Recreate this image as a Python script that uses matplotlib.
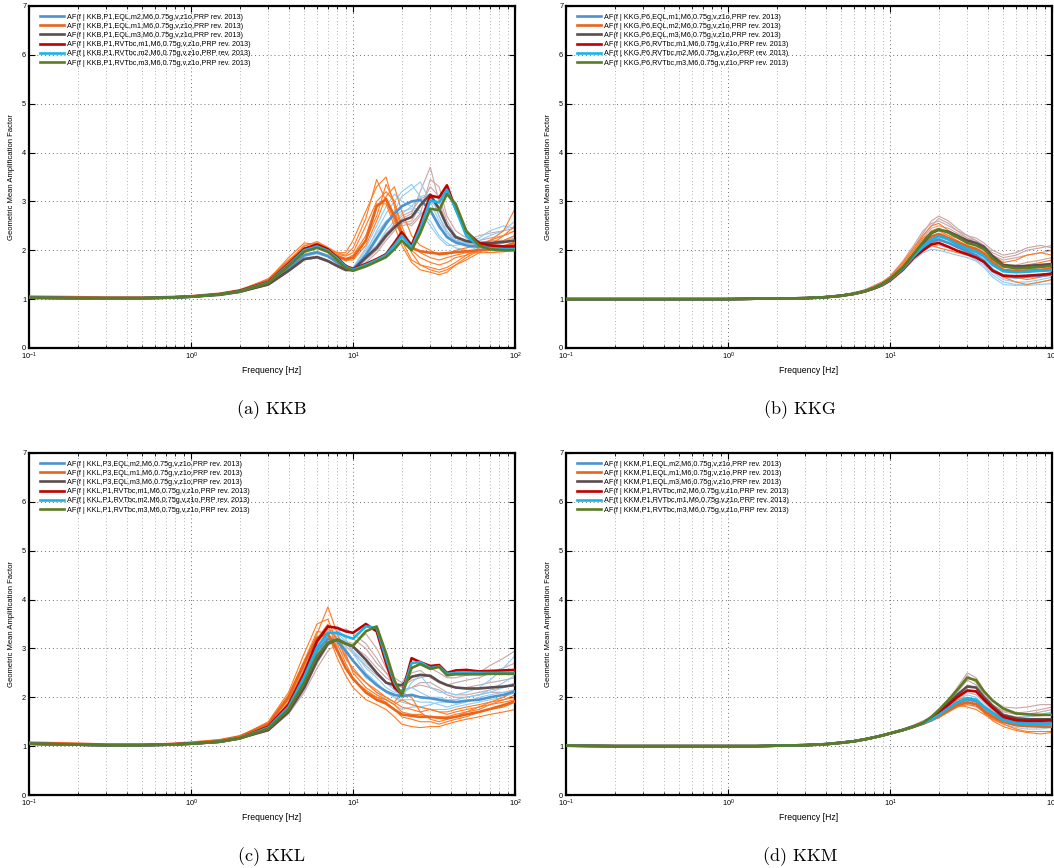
import numpy as np
import matplotlib
matplotlib.use("Agg")
import matplotlib.pyplot as plt
from matplotlib.ticker import LogLocator, NullFormatter, FixedLocator

plt.rcParams['font.family'] = ['Liberation Sans', 'DejaVu Sans']
plt.rcParams['mathtext.fontset'] = 'custom'
plt.rcParams['mathtext.rm'] = 'Liberation Sans'
plt.rcParams['mathtext.it'] = 'Liberation Sans'
plt.rcParams['mathtext.default'] = 'regular'

# ---------------------------------------------------------------- frequency grid
freq = [0.1, 0.2, 0.3, 0.5, 0.7, 1.0, 1.5, 2.0, 3, 4, 5, 6, 7, 8, 9, 10, 12, 14,
        16, 18, 20, 23, 26, 30, 34, 38, 43, 50, 60, 70, 85, 100]
N_LOW = 8  # realisations share the group mean below 3 Hz

# ---------------------------------------------------------------- KKB
kkb_low = [1.03, 1.02, 1.02, 1.02, 1.03, 1.05, 1.09, 1.15]
kkb_eql_a = kkb_low + [1.32, 1.62, 1.9, 1.96, 1.88, 1.75, 1.63, 1.6, 1.9, 2.25, 2.55, 2.75, 2.9, 3.0, 3.03, 2.82, 2.5, 2.27, 2.16, 2.1, 2.07, 2.06, 2.05, 2.05]
kkb_eql_b = [1.05, 1.04, 1.03, 1.03, 1.04, 1.06, 1.11, 1.18] + [1.38, 1.75, 2.02, 2.08, 1.98, 1.88, 1.82, 1.85, 2.2, 2.9, 3.05, 2.7, 2.35, 2.05, 1.98, 1.95, 1.93, 1.94, 1.96, 1.98, 2.0, 2.03, 2.08, 2.15]
kkb_eql_c = kkb_low + [1.3, 1.58, 1.82, 1.86, 1.78, 1.68, 1.6, 1.6, 1.85, 2.05, 2.3, 2.47, 2.6, 2.68, 2.92, 3.14, 2.85, 2.5, 2.27, 2.19, 2.15, 2.15, 2.17, 2.2]
kkb_rvt_a = [1.03, 1.02, 1.02, 1.02, 1.03, 1.05, 1.10, 1.17] + [1.35, 1.72, 2.03, 2.12, 2.02, 1.85, 1.68, 1.62, 1.72, 1.82, 1.92, 2.15, 2.37, 2.1, 2.55, 3.12, 3.08, 3.33, 2.85, 2.38, 2.15, 2.1, 2.08, 2.08]
kkb_rvt_b = [1.03, 1.02, 1.02, 1.02, 1.03, 1.05, 1.10, 1.16] + [1.34, 1.7, 2.0, 2.08, 1.99, 1.83, 1.66, 1.6, 1.7, 1.8, 1.9, 2.1, 2.3, 2.05, 2.45, 3.02, 2.98, 3.24, 2.85, 2.3, 2.08, 2.03, 2.02, 2.02]
kkb_rvt_c = [1.03, 1.02, 1.02, 1.02, 1.03, 1.05, 1.10, 1.16] + [1.33, 1.68, 1.97, 2.05, 1.97, 1.8, 1.64, 1.58, 1.67, 1.77, 1.86, 2.02, 2.2, 2.0, 2.35, 2.85, 2.82, 3.15, 2.95, 2.4, 2.1, 2.02, 2.0, 2.0]

kkb_runs_a = [
    [1.33, 1.62, 1.92, 1.98, 1.9, 1.77, 1.64, 1.62, 1.95, 2.4, 2.75, 3.0, 3.2, 3.35, 3.1, 2.8, 2.45, 2.3, 2.2, 2.15, 2.2, 2.3, 2.4, 2.6],
    [1.31, 1.6, 1.88, 1.95, 1.87, 1.74, 1.62, 1.6, 1.85, 2.2, 2.5, 2.8, 3.1, 3.25, 3.4, 3.0, 2.6, 2.35, 2.25, 2.1, 2.05, 2.1, 2.2, 2.3],
    [1.32, 1.63, 1.9, 1.96, 1.88, 1.75, 1.65, 1.65, 2.0, 2.35, 2.6, 2.7, 2.8, 2.85, 2.75, 2.6, 2.3, 2.15, 2.05, 2.0, 1.95, 2.0, 2.05, 2.05],
    [1.3, 1.6, 1.87, 1.93, 1.86, 1.73, 1.6, 1.58, 1.8, 2.1, 2.4, 2.6, 2.75, 2.9, 3.1, 3.15, 2.7, 2.4, 2.2, 2.1, 2.0, 1.95, 2.0, 2.1],
    [1.32, 1.61, 1.9, 1.97, 1.89, 1.76, 1.64, 1.64, 2.05, 2.5, 2.9, 3.15, 3.0, 2.9, 2.8, 2.5, 2.25, 2.1, 2.1, 2.15, 2.25, 2.4, 2.5, 2.45],
]
kkb_runs_b = [
    [1.40, 1.85, 2.15, 2.12, 2.0, 1.95, 1.95, 2.2, 2.8, 3.3, 3.5, 2.9, 2.2, 1.8, 1.7, 1.6, 1.55, 1.6, 1.7, 1.8, 1.95, 2.1, 2.3, 2.5],
    [1.38, 1.78, 2.1, 2.15, 2.05, 1.92, 1.88, 1.95, 2.5, 3.0, 3.2, 3.0, 2.5, 2.0, 1.85, 1.75, 1.7, 1.75, 1.85, 1.9, 2.0, 2.1, 2.2, 2.3],
    [1.36, 1.72, 2.0, 2.05, 1.95, 1.85, 1.8, 1.8, 2.1, 2.6, 3.1, 3.3, 2.8, 2.3, 2.1, 2.0, 1.9, 1.92, 2.0, 2.05, 2.1, 2.2, 2.4, 2.85],
    [1.42, 1.8, 2.05, 2.1, 1.98, 1.88, 1.82, 1.9, 2.3, 2.95, 2.95, 2.5, 2.1, 1.75, 1.6, 1.55, 1.5, 1.55, 1.7, 1.85, 2.0, 2.0, 2.05, 2.1],
    [1.37, 1.75, 2.08, 2.18, 2.06, 1.95, 1.9, 2.05, 2.65, 3.45, 3.0, 2.6, 2.3, 2.1, 1.95, 1.85, 1.8, 1.85, 1.9, 1.95, 1.95, 1.95, 1.97, 2.0],
    [1.39, 1.76, 2.02, 2.08, 1.97, 1.86, 1.78, 1.85, 2.2, 2.7, 3.35, 3.0, 2.4, 1.95, 1.7, 1.65, 1.6, 1.65, 1.75, 1.9, 2.05, 2.2, 2.3, 2.4],
]
kkb_runs_c = [
    [1.3, 1.58, 1.83, 1.87, 1.79, 1.69, 1.61, 1.62, 1.9, 2.1, 2.35, 2.5, 2.65, 2.75, 3.2, 3.7, 3.0, 2.5, 2.3, 2.2, 2.2, 2.25, 2.3, 2.4],
    [1.29, 1.56, 1.8, 1.85, 1.77, 1.67, 1.59, 1.58, 1.75, 1.95, 2.2, 2.4, 2.55, 2.6, 2.9, 3.3, 3.1, 2.6, 2.3, 2.15, 2.1, 2.1, 2.15, 2.2],
    [1.31, 1.6, 1.84, 1.88, 1.8, 1.7, 1.62, 1.63, 1.85, 2.05, 2.3, 2.55, 2.7, 2.8, 3.05, 3.15, 2.7, 2.35, 2.2, 2.15, 2.15, 2.2, 2.2, 2.25],
    [1.29, 1.57, 1.81, 1.84, 1.76, 1.66, 1.58, 1.57, 1.8, 2.0, 2.25, 2.45, 2.5, 2.55, 2.75, 3.45, 3.3, 2.7, 2.4, 2.25, 2.15, 2.1, 2.05, 2.05],
    [1.3, 1.58, 1.82, 1.86, 1.78, 1.68, 1.6, 1.6, 1.82, 2.02, 2.3, 2.5, 2.6, 2.5, 2.7, 3.0, 2.85, 2.5, 2.25, 2.2, 2.3, 2.35, 2.4, 2.45],
]

# ---------------------------------------------------------------- KKG
kkg_low = [1.0, 1.0, 1.0, 1.0, 1.0, 1.0, 1.01, 1.01]
kkg_eql_a = kkg_low + [1.02, 1.04, 1.07, 1.11, 1.16, 1.22, 1.29, 1.39, 1.61, 1.86, 2.05, 2.18, 2.22, 2.15, 2.07, 1.98, 1.9, 1.78, 1.6, 1.48, 1.45, 1.46, 1.48, 1.5]
kkg_eql_b = kkg_low + [1.02, 1.04, 1.07, 1.11, 1.16, 1.23, 1.3, 1.4, 1.63, 1.9, 2.12, 2.28, 2.33, 2.25, 2.17, 2.08, 2.02, 1.93, 1.75, 1.6, 1.57, 1.58, 1.6, 1.62]
kkg_eql_c = kkg_low + [1.02, 1.04, 1.07, 1.11, 1.16, 1.23, 1.31, 1.41, 1.64, 1.91, 2.15, 2.35, 2.42, 2.38, 2.3, 2.2, 2.15, 2.07, 1.88, 1.7, 1.67, 1.68, 1.7, 1.72]
kkg_rvt_a = kkg_low + [1.02, 1.04, 1.07, 1.11, 1.16, 1.22, 1.29, 1.38, 1.6, 1.85, 2.0, 2.12, 2.15, 2.07, 1.99, 1.92, 1.85, 1.76, 1.58, 1.48, 1.47, 1.48, 1.5, 1.52]
kkg_rvt_b = kkg_low + [1.02, 1.04, 1.07, 1.11, 1.16, 1.23, 1.3, 1.4, 1.62, 1.88, 2.08, 2.22, 2.29, 2.22, 2.12, 2.03, 1.97, 1.88, 1.7, 1.57, 1.55, 1.56, 1.58, 1.59]
kkg_rvt_c = kkg_low + [1.02, 1.04, 1.07, 1.11, 1.16, 1.23, 1.31, 1.41, 1.64, 1.92, 2.17, 2.36, 2.43, 2.36, 2.27, 2.15, 2.1, 2.03, 1.83, 1.67, 1.63, 1.64, 1.66, 1.68]

kkg_runs_a = [
    [1.03, 1.05, 1.08, 1.12, 1.17, 1.24, 1.31, 1.41, 1.62, 1.85, 2.05, 2.2, 2.25, 2.15, 2.05, 1.95, 1.9, 1.75, 1.55, 1.4, 1.35, 1.35, 1.4, 1.45],
    [1.03, 1.05, 1.08, 1.12, 1.17, 1.24, 1.31, 1.4, 1.6, 1.82, 1.98, 2.08, 2.1, 2.05, 2.0, 1.9, 1.8, 1.7, 1.5, 1.35, 1.3, 1.28, 1.3, 1.32],
    [1.03, 1.05, 1.08, 1.12, 1.18, 1.25, 1.32, 1.42, 1.66, 1.92, 2.15, 2.3, 2.35, 2.25, 2.15, 2.05, 1.98, 1.85, 1.7, 1.6, 1.6, 1.62, 1.65, 1.7],
    [1.03, 1.05, 1.08, 1.12, 1.17, 1.24, 1.31, 1.4, 1.63, 1.9, 2.1, 2.25, 2.3, 2.2, 2.1, 2.0, 1.95, 1.82, 1.62, 1.45, 1.42, 1.45, 1.5, 1.55],
    [1.03, 1.05, 1.08, 1.12, 1.17, 1.23, 1.3, 1.39, 1.58, 1.8, 1.95, 2.02, 2.0, 1.95, 1.9, 1.85, 1.78, 1.65, 1.45, 1.3, 1.28, 1.3, 1.35, 1.4],
]
kkg_runs_b = [
    [1.03, 1.05, 1.08, 1.12, 1.18, 1.25, 1.33, 1.43, 1.7, 1.95, 2.2, 2.4, 2.45, 2.35, 2.25, 2.15, 2.1, 2.0, 1.85, 1.7, 1.65, 1.7, 1.75, 1.8],
    [1.03, 1.05, 1.08, 1.12, 1.17, 1.24, 1.31, 1.4, 1.6, 1.85, 2.05, 2.15, 2.2, 2.15, 2.05, 2.0, 1.9, 1.8, 1.6, 1.5, 1.45, 1.4, 1.45, 1.5],
    [1.03, 1.05, 1.08, 1.13, 1.19, 1.27, 1.35, 1.46, 1.75, 2.05, 2.3, 2.5, 2.55, 2.4, 2.3, 2.2, 2.15, 2.05, 1.9, 1.75, 1.8, 1.9, 1.95, 1.9],
    [1.03, 1.05, 1.08, 1.12, 1.18, 1.25, 1.32, 1.42, 1.65, 1.85, 2.0, 2.1, 2.05, 2.0, 1.95, 1.9, 1.85, 1.75, 1.6, 1.45, 1.35, 1.3, 1.35, 1.4],
    [1.03, 1.05, 1.08, 1.12, 1.18, 1.26, 1.34, 1.44, 1.7, 2.0, 2.25, 2.35, 2.4, 2.3, 2.2, 2.1, 2.05, 1.95, 1.8, 1.6, 1.55, 1.6, 1.6, 1.65],
]
kkg_runs_c = [
    [1.03, 1.05, 1.08, 1.13, 1.19, 1.27, 1.35, 1.46, 1.75, 2.05, 2.35, 2.6, 2.7, 2.6, 2.45, 2.3, 2.2, 2.1, 1.95, 1.85, 1.9, 2.0, 2.05, 2.1],
    [1.03, 1.05, 1.08, 1.12, 1.18, 1.26, 1.34, 1.44, 1.7, 1.98, 2.25, 2.45, 2.5, 2.45, 2.35, 2.25, 2.15, 2.05, 1.85, 1.7, 1.7, 1.75, 1.8, 1.85],
    [1.03, 1.05, 1.08, 1.13, 1.19, 1.28, 1.36, 1.47, 1.78, 2.1, 2.4, 2.55, 2.6, 2.5, 2.4, 2.3, 2.25, 2.15, 2.0, 1.9, 1.95, 2.05, 2.1, 2.05],
    [1.03, 1.05, 1.08, 1.12, 1.18, 1.25, 1.33, 1.43, 1.65, 1.9, 2.15, 2.3, 2.35, 2.3, 2.25, 2.2, 2.1, 1.95, 1.75, 1.6, 1.55, 1.6, 1.65, 1.7],
    [1.03, 1.05, 1.08, 1.12, 1.18, 1.26, 1.34, 1.45, 1.72, 2.0, 2.3, 2.5, 2.65, 2.55, 2.4, 2.25, 2.2, 2.1, 1.9, 1.8, 1.85, 1.9, 1.95, 2.0],
]

# ---------------------------------------------------------------- KKL
kkl_low = [1.05, 1.03, 1.02, 1.02, 1.03, 1.05, 1.09, 1.16]
kkl_eql_a = kkl_low + [1.36, 1.8, 2.4, 2.95, 3.2, 3.15, 2.95, 2.75, 2.45, 2.25, 2.12, 2.05, 2.02, 2.05, 2.0, 1.98, 1.95, 1.92, 1.9, 1.93, 1.95, 2.0, 2.05, 2.12]
kkl_eql_b = [1.07, 1.05, 1.03, 1.03, 1.04, 1.07, 1.12, 1.2] + [1.45, 2.0, 2.7, 3.22, 3.3, 2.95, 2.6, 2.38, 2.1, 1.95, 1.87, 1.75, 1.65, 1.62, 1.6, 1.6, 1.58, 1.57, 1.6, 1.65, 1.7, 1.76, 1.84, 1.92]
kkl_eql_c = kkl_low + [1.33, 1.7, 2.2, 2.75, 3.1, 3.18, 3.1, 3.04, 2.77, 2.5, 2.3, 2.25, 2.25, 2.42, 2.46, 2.44, 2.32, 2.25, 2.2, 2.18, 2.18, 2.2, 2.22, 2.25]
kkl_rvt_a = kkl_low + [1.4, 1.85, 2.5, 3.15, 3.45, 3.42, 3.35, 3.32, 3.5, 3.35, 2.7, 2.2, 2.06, 2.8, 2.72, 2.64, 2.66, 2.5, 2.55, 2.56, 2.53, 2.54, 2.55, 2.56]
kkl_rvt_b = kkl_low + [1.38, 1.8, 2.42, 3.02, 3.32, 3.32, 3.25, 3.2, 3.45, 3.42, 2.8, 2.3, 2.05, 2.7, 2.72, 2.6, 2.63, 2.48, 2.5, 2.51, 2.5, 2.5, 2.5, 2.5]
kkl_rvt_c = kkl_low + [1.36, 1.75, 2.3, 2.85, 3.12, 3.18, 3.1, 3.05, 3.35, 3.45, 2.9, 2.35, 2.04, 2.6, 2.68, 2.58, 2.62, 2.45, 2.47, 2.47, 2.47, 2.48, 2.48, 2.48]

kkl_runs_a = [
    [1.38, 1.85, 2.45, 3.0, 3.35, 3.4, 3.2, 2.9, 2.5, 2.3, 2.1, 2.0, 1.9, 1.85, 1.8, 1.85, 1.9, 1.9, 1.95, 2.0, 2.05, 2.1, 2.2, 2.3],
    [1.35, 1.75, 2.3, 2.85, 3.15, 3.25, 3.1, 2.95, 2.6, 2.4, 2.2, 2.1, 2.15, 2.2, 2.1, 2.0, 2.0, 1.95, 1.95, 2.0, 2.05, 2.15, 2.3, 2.45],
    [1.37, 1.8, 2.4, 2.95, 3.25, 3.05, 2.8, 2.55, 2.3, 2.1, 1.95, 1.85, 1.75, 1.8, 1.8, 1.75, 1.75, 1.75, 1.8, 1.85, 1.9, 1.95, 2.0, 2.1],
    [1.36, 1.78, 2.35, 2.9, 3.2, 3.3, 3.15, 2.95, 2.7, 2.5, 2.3, 2.15, 2.0, 2.3, 2.45, 2.2, 2.1, 2.1, 2.05, 2.1, 2.2, 2.35, 2.6, 2.85],
    [1.34, 1.72, 2.25, 2.8, 3.1, 3.2, 3.0, 2.75, 2.4, 2.25, 2.1, 2.0, 1.95, 1.95, 1.9, 1.9, 1.85, 1.8, 1.85, 1.9, 2.0, 2.05, 2.1, 2.15],
]
kkl_runs_b = [
    [1.5, 2.1, 2.9, 3.5, 3.6, 3.1, 2.7, 2.4, 2.1, 2.0, 1.9, 1.75, 1.6, 1.55, 1.5, 1.5, 1.45, 1.5, 1.55, 1.6, 1.7, 1.75, 1.8, 1.9],
    [1.45, 2.0, 2.7, 3.3, 3.85, 3.3, 2.9, 2.5, 2.2, 2.05, 1.95, 1.85, 1.7, 1.65, 1.65, 1.6, 1.6, 1.6, 1.65, 1.7, 1.75, 1.85, 1.95, 2.05],
    [1.42, 1.9, 2.6, 3.1, 3.4, 3.2, 2.8, 2.6, 2.3, 2.15, 2.0, 1.9, 1.8, 1.75, 1.7, 1.75, 1.7, 1.65, 1.7, 1.75, 1.8, 1.9, 2.0, 2.15],
    [1.48, 2.05, 2.75, 3.35, 3.3, 2.8, 2.45, 2.2, 1.95, 1.85, 1.75, 1.6, 1.45, 1.4, 1.38, 1.4, 1.4, 1.45, 1.5, 1.55, 1.6, 1.65, 1.7, 1.75],
    [1.46, 2.0, 2.65, 3.2, 3.5, 3.0, 2.6, 2.35, 2.15, 2.0, 1.95, 1.85, 1.95, 1.85, 1.8, 1.75, 1.7, 1.7, 1.75, 1.8, 1.85, 1.9, 1.95, 2.0],
    [1.44, 1.95, 2.55, 3.05, 3.25, 3.15, 2.85, 2.55, 2.3, 2.1, 2.0, 1.9, 2.1, 2.0, 1.7, 1.55, 1.5, 1.55, 1.6, 1.7, 1.8, 1.85, 1.9, 1.95],
]
kkl_runs_c = [
    [1.33, 1.7, 2.2, 2.75, 3.1, 3.3, 3.25, 3.2, 3.0, 2.7, 2.5, 2.4, 2.3, 2.6, 2.7, 2.6, 2.5, 2.4, 2.4, 2.45, 2.5, 2.65, 2.8, 2.95],
    [1.32, 1.68, 2.15, 2.7, 3.05, 3.2, 3.15, 3.1, 3.3, 3.0, 2.6, 2.3, 2.2, 2.35, 2.4, 2.45, 2.3, 2.25, 2.2, 2.2, 2.25, 2.3, 2.35, 2.4],
    [1.34, 1.72, 2.25, 2.8, 3.15, 3.25, 3.05, 2.9, 2.65, 2.45, 2.3, 2.2, 2.15, 2.2, 2.3, 2.3, 2.2, 2.1, 2.05, 2.05, 2.1, 2.15, 2.2, 2.25],
    [1.31, 1.66, 2.1, 2.6, 2.95, 3.1, 3.1, 3.05, 2.85, 2.6, 2.4, 2.3, 2.25, 2.5, 2.55, 2.4, 2.3, 2.25, 2.3, 2.35, 2.4, 2.5, 2.6, 2.7],
    [1.33, 1.7, 2.2, 2.72, 3.08, 3.35, 3.4, 3.3, 3.1, 2.8, 2.5, 2.25, 2.1, 2.2, 2.25, 2.2, 2.15, 2.05, 2.0, 2.0, 2.05, 2.1, 2.1, 2.15],
]

# ---------------------------------------------------------------- KKM
kkm_low = [1.01, 1.0, 1.0, 1.0, 1.0, 1.0, 1.0, 1.01]
kkm_eql_a = kkm_low + [1.02, 1.04, 1.07, 1.1, 1.14, 1.18, 1.22, 1.26, 1.33, 1.4, 1.47, 1.54, 1.63, 1.77, 1.88, 1.96, 1.93, 1.8, 1.68, 1.55, 1.49, 1.47, 1.47, 1.47]
kkm_eql_b = kkm_low + [1.02, 1.04, 1.07, 1.1, 1.14, 1.18, 1.22, 1.26, 1.33, 1.4, 1.46, 1.53, 1.62, 1.74, 1.84, 1.9, 1.86, 1.72, 1.6, 1.5, 1.43, 1.41, 1.4, 1.4]
kkm_eql_c = kkm_low + [1.02, 1.04, 1.07, 1.1, 1.14, 1.18, 1.22, 1.26, 1.33, 1.4, 1.47, 1.57, 1.71, 1.88, 2.05, 2.22, 2.2, 2.0, 1.82, 1.64, 1.57, 1.55, 1.55, 1.55]
kkm_rvt_a = kkm_low + [1.02, 1.04, 1.07, 1.1, 1.14, 1.18, 1.22, 1.26, 1.33, 1.4, 1.47, 1.55, 1.67, 1.85, 2.0, 2.14, 2.12, 1.95, 1.78, 1.6, 1.53, 1.52, 1.52, 1.53]
kkm_rvt_b = kkm_low + [1.02, 1.04, 1.07, 1.1, 1.14, 1.18, 1.22, 1.26, 1.33, 1.4, 1.47, 1.54, 1.64, 1.78, 1.9, 1.98, 1.95, 1.8, 1.67, 1.53, 1.47, 1.45, 1.45, 1.45]
kkm_rvt_c = kkm_low + [1.02, 1.04, 1.07, 1.1, 1.14, 1.18, 1.22, 1.26, 1.33, 1.4, 1.48, 1.6, 1.74, 1.95, 2.15, 2.4, 2.35, 2.12, 1.93, 1.77, 1.67, 1.65, 1.64, 1.64]

kkm_runs_a = [
    [1.03, 1.05, 1.08, 1.11, 1.15, 1.19, 1.23, 1.27, 1.34, 1.41, 1.48, 1.55, 1.63, 1.78, 1.9, 2.0, 1.95, 1.82, 1.68, 1.55, 1.5, 1.5, 1.52, 1.55],
    [1.03, 1.05, 1.08, 1.11, 1.15, 1.19, 1.23, 1.27, 1.34, 1.41, 1.47, 1.53, 1.6, 1.72, 1.82, 1.88, 1.85, 1.72, 1.58, 1.45, 1.38, 1.35, 1.35, 1.38],
    [1.03, 1.05, 1.08, 1.11, 1.15, 1.19, 1.23, 1.27, 1.34, 1.42, 1.49, 1.56, 1.65, 1.82, 1.95, 2.05, 2.0, 1.85, 1.7, 1.6, 1.58, 1.6, 1.65, 1.7],
    [1.03, 1.05, 1.08, 1.11, 1.15, 1.19, 1.23, 1.27, 1.33, 1.4, 1.46, 1.52, 1.59, 1.7, 1.8, 1.85, 1.8, 1.7, 1.58, 1.48, 1.42, 1.4, 1.42, 1.45],
    [1.03, 1.05, 1.08, 1.11, 1.15, 1.19, 1.23, 1.27, 1.34, 1.41, 1.48, 1.55, 1.62, 1.76, 1.88, 1.95, 1.9, 1.78, 1.62, 1.5, 1.45, 1.45, 1.5, 1.52],
]
kkm_runs_b = [
    [1.03, 1.05, 1.08, 1.11, 1.15, 1.19, 1.23, 1.27, 1.33, 1.39, 1.45, 1.52, 1.58, 1.7, 1.8, 1.85, 1.82, 1.7, 1.55, 1.45, 1.35, 1.3, 1.3, 1.3],
    [1.03, 1.05, 1.08, 1.11, 1.15, 1.19, 1.23, 1.27, 1.34, 1.41, 1.48, 1.55, 1.62, 1.78, 1.9, 1.95, 1.9, 1.75, 1.62, 1.52, 1.45, 1.42, 1.4, 1.38],
    [1.03, 1.05, 1.08, 1.11, 1.15, 1.19, 1.23, 1.27, 1.33, 1.4, 1.46, 1.52, 1.6, 1.72, 1.82, 1.88, 1.85, 1.68, 1.52, 1.4, 1.32, 1.28, 1.25, 1.28],
    [1.03, 1.05, 1.08, 1.11, 1.15, 1.19, 1.23, 1.27, 1.34, 1.42, 1.5, 1.58, 1.65, 1.82, 1.95, 2.0, 1.92, 1.8, 1.68, 1.58, 1.5, 1.48, 1.5, 1.5],
    [1.03, 1.05, 1.08, 1.11, 1.15, 1.19, 1.23, 1.27, 1.33, 1.4, 1.47, 1.53, 1.6, 1.75, 1.85, 1.8, 1.75, 1.65, 1.55, 1.48, 1.42, 1.4, 1.42, 1.45],
]
kkm_runs_c = [
    [1.03, 1.05, 1.08, 1.11, 1.15, 1.19, 1.23, 1.27, 1.35, 1.43, 1.51, 1.59, 1.68, 1.9, 2.15, 2.45, 2.3, 2.05, 1.85, 1.72, 1.68, 1.7, 1.75, 1.8],
    [1.03, 1.05, 1.08, 1.11, 1.15, 1.19, 1.23, 1.27, 1.34, 1.42, 1.5, 1.57, 1.65, 1.85, 2.05, 2.25, 2.2, 2.0, 1.82, 1.65, 1.6, 1.6, 1.62, 1.65],
    [1.03, 1.05, 1.08, 1.11, 1.15, 1.19, 1.23, 1.27, 1.35, 1.43, 1.52, 1.6, 1.7, 1.95, 2.2, 2.5, 2.4, 2.15, 1.95, 1.8, 1.78, 1.8, 1.85, 1.85],
    [1.03, 1.05, 1.08, 1.11, 1.15, 1.19, 1.23, 1.27, 1.34, 1.41, 1.48, 1.55, 1.63, 1.8, 1.95, 2.1, 2.05, 1.9, 1.72, 1.58, 1.52, 1.5, 1.52, 1.55],
    [1.03, 1.05, 1.08, 1.11, 1.15, 1.19, 1.23, 1.27, 1.34, 1.42, 1.5, 1.58, 1.66, 1.88, 2.1, 2.35, 2.25, 2.05, 1.85, 1.7, 1.65, 1.65, 1.7, 1.75],
]

# ---------------------------------------------------------------- legend texts
kkb_labels = [
    'AF(f | KKB,P1,EQL,m2,M6,0.75g,v,z1o,PRP rev. 2013)',
    'AF(f | KKB,P1,EQL,m1,M6,0.75g,v,z1o,PRP rev. 2013)',
    'AF(f | KKB,P1,EQL,m3,M6,0.75g,v,z1o,PRP rev. 2013)',
    'AF(f | KKB,P1,RVTbc,m1,M6,0.75g,v,z1o,PRP rev. 2013)',
    'AF(f | KKB,P1,RVTbc,m2,M6,0.75g,v,z1o,PRP rev. 2013)',
    'AF(f | KKB,P1,RVTbc,m3,M6,0.75g,v,z1o,PRP rev. 2013)',
]
kkg_labels = [
    'AF(f | KKG,P6,EQL,m1,M6,0.75g,v,z1o,PRP rev. 2013)',
    'AF(f | KKG,P6,EQL,m2,M6,0.75g,v,z1o,PRP rev. 2013)',
    'AF(f | KKG,P6,EQL,m3,M6,0.75g,v,z1o,PRP rev. 2013)',
    'AF(f | KKG,P6,RVTbc,m1,M6,0.75g,v,z1o,PRP rev. 2013)',
    'AF(f | KKG,P6,RVTbc,m2,M6,0.75g,v,z1o,PRP rev. 2013)',
    'AF(f | KKG,P6,RVTbc,m3,M6,0.75g,v,z1o,PRP rev. 2013)',
]
kkl_labels = [
    'AF(f | KKL,P3,EQL,m2,M6,0.75g,v,z1o,PRP rev. 2013)',
    'AF(f | KKL,P3,EQL,m1,M6,0.75g,v,z1o,PRP rev. 2013)',
    'AF(f | KKL,P3,EQL,m3,M6,0.75g,v,z1o,PRP rev. 2013)',
    'AF(f | KKL,P1,RVTbc,m1,M6,0.75g,v,z1o,PRP rev. 2013)',
    'AF(f | KKL,P1,RVTbc,m2,M6,0.75g,v,z1o,PRP rev. 2013)',
    'AF(f | KKL,P1,RVTbc,m3,M6,0.75g,v,z1o,PRP rev. 2013)',
]
kkm_labels = [
    'AF(f | KKM,P1,EQL,m2,M6,0.75g,v,z1o,PRP rev. 2013)',
    'AF(f | KKM,P1,EQL,m1,M6,0.75g,v,z1o,PRP rev. 2013)',
    'AF(f | KKM,P1,EQL,m3,M6,0.75g,v,z1o,PRP rev. 2013)',
    'AF(f | KKM,P1,RVTbc,m2,M6,0.75g,v,z1o,PRP rev. 2013)',
    'AF(f | KKM,P1,RVTbc,m1,M6,0.75g,v,z1o,PRP rev. 2013)',
    'AF(f | KKM,P1,RVTbc,m3,M6,0.75g,v,z1o,PRP rev. 2013)',
]
captions = ['(a) KKB', '(b) KKG', '(c) KKL', '(d) KKM']

# ---------------------------------------------------------------- styling
mean_colors = ['#4f93cc', '#e8651c', '#5e4d4f', '#c00000', '#1ab3e8', '#5b7c22']
run_colors = ['#8fccf2', '#ff7a22', '#caa6a6']  # EQL a, EQL b, EQL c realisations
run_order = [2, 0, 1]

W, H = 1054, 868
fig = plt.figure(figsize=(W / 100, H / 100), dpi=100)

panels = [
    dict(pos=(29, 6), means=[kkb_eql_a, kkb_eql_b, kkb_eql_c, kkb_rvt_a, kkb_rvt_b, kkb_rvt_c],
         runs=[kkb_runs_a, kkb_runs_b, kkb_runs_c], labels=kkb_labels, cap=captions[0], capx=272),
    dict(pos=(566, 6), means=[kkg_eql_a, kkg_eql_b, kkg_eql_c, kkg_rvt_a, kkg_rvt_b, kkg_rvt_c],
         runs=[kkg_runs_a, kkg_runs_b, kkg_runs_c], labels=kkg_labels, cap=captions[1], capx=800),
    dict(pos=(29, 453), means=[kkl_eql_a, kkl_eql_b, kkl_eql_c, kkl_rvt_a, kkl_rvt_b, kkl_rvt_c],
         runs=[kkl_runs_a, kkl_runs_b, kkl_runs_c], labels=kkl_labels, cap=captions[2], capx=272),
    dict(pos=(566, 453), means=[kkm_eql_a, kkm_eql_b, kkm_eql_c, kkm_rvt_a, kkm_rvt_b, kkm_rvt_c],
         runs=[kkm_runs_a, kkm_runs_b, kkm_runs_c], labels=kkm_labels, cap=captions[3], capx=800),
]

AX_W, AX_H = 486, 342
f = np.array(freq)

for p in panels:
    x0, y0 = p['pos']
    ax = fig.add_axes([x0 / W, 1 - (y0 + AX_H) / H, AX_W / W, AX_H / H])

    # individual realisations
    for gi in run_order:
        low = p['means'][gi][:N_LOW]
        for run in p['runs'][gi]:
            ax.plot(f, low + run, color=run_colors[gi], lw=0.8, zorder=2)

    # group means
    handles = []
    for m, c in zip(p['means'], mean_colors):
        h, = ax.plot(f, m, color=c, lw=1.9, zorder=3, solid_joinstyle='round')
        handles.append(h)

    ax.set_xscale('log')
    ax.set_xlim(0.1, 100)
    ax.set_ylim(0, 7)
    ax.yaxis.set_major_locator(FixedLocator(range(8)))
    ax.xaxis.set_major_locator(LogLocator(base=10, numticks=10))
    ax.xaxis.set_minor_locator(LogLocator(base=10, subs=np.arange(2, 10), numticks=20))
    ax.xaxis.set_minor_formatter(NullFormatter())

    ax.grid(True, which='major', axis='both', ls=(0, (1, 3)), color='#707070', lw=0.7)
    ax.grid(True, which='minor', axis='x', ls=(0, (1, 3)), color='#9a9a9a', lw=0.6)
    ax.set_axisbelow(True)

    ax.tick_params(which='both', direction='in', top=True, right=True,
                   labelsize=5.3, pad=2)
    ax.tick_params(which='major', length=4, width=0.8)
    ax.tick_params(which='minor', length=2.5, width=0.6)
    for s in ax.spines.values():
        s.set_linewidth(1.6)

    ax.set_xlabel('Frequency [Hz]', fontsize=6.2, labelpad=3)
    ax.set_ylabel('Geometric Mean Amplification Factor', fontsize=5.5, labelpad=5)

    ax.legend(handles, p['labels'], loc='upper left', bbox_to_anchor=(0.022, 0.978),
              frameon=False, fontsize=5.2, handlelength=3.3, handletextpad=0.5,
              labelspacing=0.3, borderaxespad=0, borderpad=0)

    cap_y = y0 + AX_H + 62
    fig.text(p['capx'] / W, 1 - cap_y / H, p['cap'], family='cmr10', fontsize=13,
             ha='center', va='center')

fig.savefig('out.png', dpi=100)
